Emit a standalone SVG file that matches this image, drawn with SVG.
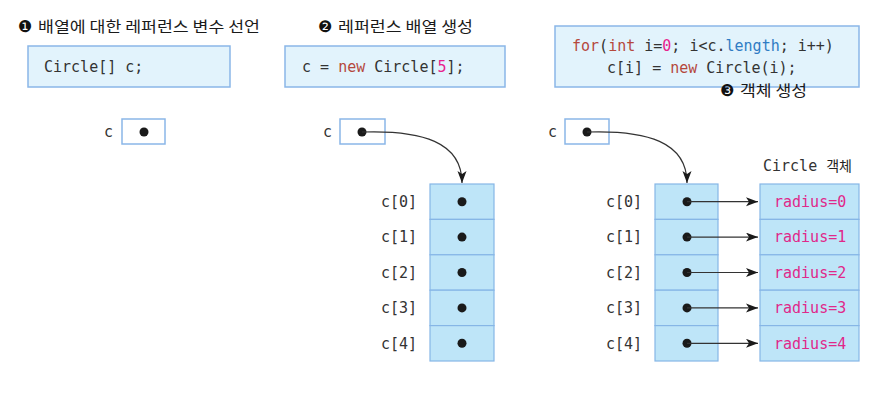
<svg xmlns="http://www.w3.org/2000/svg" width="885" height="403" viewBox="0 0 885 403">
<style>
.title{font-family:"Noto Sans CJK KR","DejaVu Sans",sans-serif;font-size:15px;fill:#1a1a1a}
.bul{font-family:"DejaVu Sans",sans-serif;font-size:16px;fill:#111}
.code{font-family:"DejaVu Sans Mono","Liberation Mono",monospace;font-size:15px;fill:#333}
.kw{fill:#b5483c}
.num{fill:#e8228c}
.fld{fill:#2f7cc4}
.kr{font-family:"Noto Sans CJK KR",sans-serif;font-size:14px;fill:#222}
.rad{font-family:"DejaVu Sans Mono","Liberation Mono",monospace;font-size:15px;fill:#e0288a}
.cbox{fill:#e2f3fc;stroke:#8ab6e8;stroke-width:1.5}
.ref{fill:#ffffff;stroke:#8ab6e8;stroke-width:1.5}
.cell{fill:#bee5f8;stroke:#86b6e6;stroke-width:1.2}
.dot{fill:#1a1a1a}
.conn{fill:none;stroke:#333;stroke-width:1.2}
</style>
<defs>
<marker id="ah" markerWidth="14" markerHeight="10" refX="12" refY="4.5" orient="auto" markerUnits="userSpaceOnUse">
<path d="M0,0 L12,4.5 L0,9 L3,4.5 z" fill="#1a1a1a"/>
</marker>
</defs>

<g id="step1">
<text class="bul" x="18" y="32">❶</text>
<text class="title" x="38" y="32" textLength="222" lengthAdjust="spacingAndGlyphs">배열에 대한 레퍼런스 변수 선언</text>
</g>
<g id="code1">
<rect class="cbox" x="28" y="46" width="202" height="41"/>
<text class="code" x="44" y="72">Circle[] c;</text>
</g>
<g id="ref1">
<text class="code" x="104" y="137">c</text>
<rect class="ref" x="122" y="119" width="43" height="25"/>
<circle class="dot" cx="144" cy="132" r="4.5"/>
</g>

<g id="step2">
<text class="bul" x="318" y="32">❷</text>
<text class="title" x="338" y="32" textLength="135" lengthAdjust="spacingAndGlyphs">레퍼런스 배열 생성</text>
</g>
<g id="code2">
<rect class="cbox" x="285" y="46" width="220" height="41"/>
<text class="code" x="302" y="72">c = <tspan class="kw">new</tspan> Circle[<tspan class="num">5</tspan>];</text>
</g>
<g id="ref2">
<text class="code" x="323" y="137">c</text>
<rect class="ref" x="340" y="119" width="45" height="25"/>
<circle class="dot" cx="362" cy="132" r="4.5"/>
</g>
<g id="array2">
<rect class="cell" x="430" y="184" width="64" height="35.4"/>
<rect class="cell" x="430" y="219.4" width="64" height="35.4"/>
<rect class="cell" x="430" y="254.8" width="64" height="35.4"/>
<rect class="cell" x="430" y="290.2" width="64" height="35.4"/>
<rect class="cell" x="430" y="325.6" width="64" height="35.4"/>
<circle class="dot" cx="462" cy="201.7" r="4.5"/>
<circle class="dot" cx="462" cy="237.1" r="4.5"/>
<circle class="dot" cx="462" cy="272.5" r="4.5"/>
<circle class="dot" cx="462" cy="307.9" r="4.5"/>
<circle class="dot" cx="462" cy="343.3" r="4.5"/>
<text class="code" x="381" y="207">c[0]</text>
<text class="code" x="381" y="242.4">c[1]</text>
<text class="code" x="381" y="277.8">c[2]</text>
<text class="code" x="381" y="313.2">c[3]</text>
<text class="code" x="381" y="348.6">c[4]</text>
</g>

<g id="code3">
<rect class="cbox" x="555" y="26" width="304" height="61"/>
<text class="code" x="572" y="51"><tspan class="kw">for</tspan>(<tspan class="kw">int</tspan> i=<tspan class="num">0</tspan>; i&lt;c.<tspan class="fld">length</tspan>; i++)</text>
<text class="code" x="607" y="73">c[i] = <tspan class="kw">new</tspan> Circle(i);</text>
</g>
<g id="step3">
<text class="bul" x="720" y="96">❸</text>
<text class="title" x="740" y="96" textLength="67" lengthAdjust="spacingAndGlyphs">객체 생성</text>
</g>
<g id="ref3">
<text class="code" x="548" y="137">c</text>
<rect class="ref" x="565" y="119" width="44" height="25"/>
<circle class="dot" cx="587" cy="132" r="4.5"/>
</g>
<g id="array3">
<rect class="cell" x="655" y="184" width="63" height="35.4"/>
<rect class="cell" x="655" y="219.4" width="63" height="35.4"/>
<rect class="cell" x="655" y="254.8" width="63" height="35.4"/>
<rect class="cell" x="655" y="290.2" width="63" height="35.4"/>
<rect class="cell" x="655" y="325.6" width="63" height="35.4"/>
<circle class="dot" cx="687" cy="201.7" r="4.5"/>
<circle class="dot" cx="687" cy="237.1" r="4.5"/>
<circle class="dot" cx="687" cy="272.5" r="4.5"/>
<circle class="dot" cx="687" cy="307.9" r="4.5"/>
<circle class="dot" cx="687" cy="343.3" r="4.5"/>
<text class="code" x="606" y="207">c[0]</text>
<text class="code" x="606" y="242.4">c[1]</text>
<text class="code" x="606" y="277.8">c[2]</text>
<text class="code" x="606" y="313.2">c[3]</text>
<text class="code" x="606" y="348.6">c[4]</text>
</g>
<g id="objects">
<text class="code" x="763" y="171">Circle <tspan class="kr">객체</tspan></text>
<rect class="cell" x="760" y="184" width="99" height="35.4"/>
<rect class="cell" x="760" y="219.4" width="99" height="35.4"/>
<rect class="cell" x="760" y="254.8" width="99" height="35.4"/>
<rect class="cell" x="760" y="290.2" width="99" height="35.4"/>
<rect class="cell" x="760" y="325.6" width="99" height="35.4"/>
<text class="rad" x="774" y="207">radius=0</text>
<text class="rad" x="774" y="242.4">radius=1</text>
<text class="rad" x="774" y="277.8">radius=2</text>
<text class="rad" x="774" y="313.2">radius=3</text>
<text class="rad" x="774" y="348.6">radius=4</text>
</g>

<g id="connectors">
<path class="conn" d="M362,132 C422,130 462,142 462,183" marker-end="url(#ah)"/>
<path class="conn" d="M587,132 C647,130 687,142 687,183" marker-end="url(#ah)"/>
<path class="conn" d="M687,201.7 L758,201.7" marker-end="url(#ah)"/>
<path class="conn" d="M687,237.1 L758,237.1" marker-end="url(#ah)"/>
<path class="conn" d="M687,272.5 L758,272.5" marker-end="url(#ah)"/>
<path class="conn" d="M687,307.9 L758,307.9" marker-end="url(#ah)"/>
<path class="conn" d="M687,343.3 L758,343.3" marker-end="url(#ah)"/>
</g>
</svg>
